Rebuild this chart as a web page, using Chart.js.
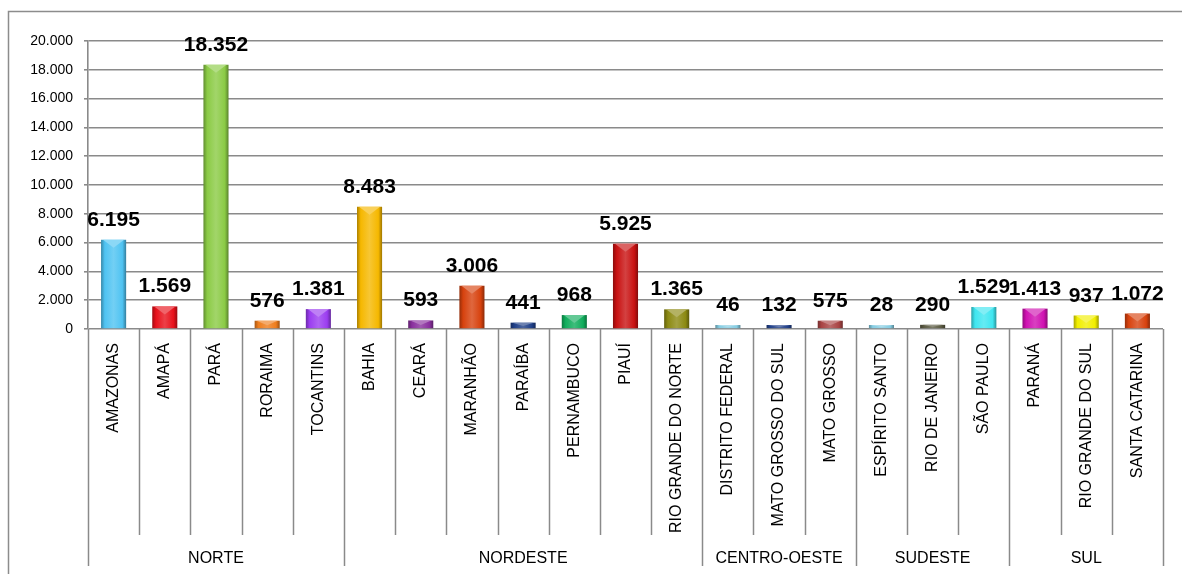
<!DOCTYPE html>
<html lang="pt">
<head>
  <meta charset="UTF-8">
  <title>Estados por região</title>
  <script src="https://cdn.jsdelivr.net/npm/chart.js"></script>
  <style>
    * { box-sizing: border-box; }
    body { margin: 0; background: #fff; }
    canvas { display: block; }
  </style>
</head>
<body>
  <canvas id="chart" width="1182" height="574"></canvas>
  <script>
    // data
    const states = ['AMAZONAS','AMAPÁ','PARÁ','RORAIMA','TOCANTINS',
      'BAHIA','CEARÁ','MARANHÃO','PARAÍBA','PERNAMBUCO','PIAUÍ','RIO GRANDE DO NORTE',
      'DISTRITO FEDERAL','MATO GROSSO DO SUL','MATO GROSSO',
      'ESPÍRITO SANTO','RIO DE JANEIRO','SÃO PAULO',
      'PARANÁ','RIO GRANDE DO SUL','SANTA CATARINA'];
    const values = [6195,1569,18352,576,1381, 8483,593,3006,441,968,5925,1365, 46,132,575, 28,290,1529, 1413,937,1072];
    const regions = ['NORTE','NORDESTE','CENTRO-OESTE','SUDESTE','SUL'];
    const regionSizes = [5,7,3,3,3];
    const barColors = ['#4fc3f2','#e8111b','#8bcb45','#ef7d1c','#9b3df0',
      '#f6b800','#8a2f9e','#d7420e','#1f3f88','#10ad5c','#c91212','#8c8a12',
      '#86cde3','#22418a','#a94444',
      '#86cde3','#5b5a42','#3fe6f0',
      '#d011b2','#f2ef00','#d8420e'];
    const yTicks = { min: 0, max: 20000, step: 2000 };

    const fmt = v => String(v).replace(/\B(?=(\d{3})+(?!\d))/g, '.');
    const FONT = '"Liberation Sans", Arial, sans-serif';
    const GRID = '#8a8a8a';

    function shade(hex, f) {
      const n = parseInt(hex.slice(1), 16);
      let r = n >> 16, g = (n >> 8) & 255, b = n & 255;
      if (f < 0) { r *= 1 + f; g *= 1 + f; b *= 1 + f; }
      else { r += (255 - r) * f; g += (255 - g) * f; b += (255 - b) * f; }
      return `rgb(${r|0},${g|0},${b|0})`;
    }

    function barFill(c) {
      const base = barColors[c.dataIndex];
      const xs = c.chart.scales.x;
      if (!xs || !xs.width) return base;
      const cx = xs.getPixelForValue(c.dataIndex);
      const half = xs.width / states.length * 0.245;
      const g = c.chart.ctx.createLinearGradient(cx - half, 0, cx + half, 0);
      g.addColorStop(0, shade(base, -0.3));
      g.addColorStop(0.15, base);
      g.addColorStop(0.5, shade(base, 0.2));
      g.addColorStop(0.85, base);
      g.addColorStop(1, shade(base, -0.35));
      return g;
    }

    const decor = {
      id: 'decor',
      beforeDraw(chart) {
        const c = chart.ctx;
        c.save(); c.strokeStyle = '#8c8c8c'; c.lineWidth = 1.5;
        c.strokeRect(8.5, 11.5, 1400, 800);
        c.restore();
      },
      afterDatasetsDraw(chart) {
        const c = chart.ctx, meta = chart.getDatasetMeta(0);
        c.save();
        meta.data.forEach((el, i) => {
          const h = el.base - el.y, w = el.width;
          // lighter bevel cap on top
          c.fillStyle = shade(barColors[i], 0.35);
          c.beginPath();
          c.moveTo(el.x - w / 2 + 2, el.y);
          c.lineTo(el.x + w / 2 - 2, el.y);
          c.lineTo(el.x, el.y + Math.min(8, h * 0.6));
          c.closePath(); c.fill();
          // value label
          c.fillStyle = '#000';
          c.font = 'bold 21px ' + FONT;
          c.textAlign = 'center'; c.textBaseline = 'alphabetic';
          c.fillText(fmt(values[i]), el.x, el.y - 14);
        });
        c.restore();
      },
      afterDraw(chart) {
        const c = chart.ctx, xs = chart.scales.x, a = chart.chartArea;
        const step = (xs.right - xs.left) / states.length;
        const groupEdges = [0];
        regionSizes.forEach(n => groupEdges.push(groupEdges[groupEdges.length - 1] + n));
        c.save();
        c.strokeStyle = GRID; c.lineWidth = 1.5;
        for (let i = 0; i <= states.length; i++) {
          const x = Math.round(xs.left + i * step) + 0.5;
          const end = groupEdges.includes(i) ? a.bottom + 237 : a.bottom + 206;
          c.beginPath(); c.moveTo(x, a.bottom); c.lineTo(x, end); c.stroke();
        }
        c.fillStyle = '#000';
        c.font = '16px ' + FONT;
        c.textAlign = 'center'; c.textBaseline = 'middle';
        regions.forEach((r, k) => {
          const mid = xs.left + (groupEdges[k] + groupEdges[k + 1]) / 2 * step;
          c.fillText(r, mid, a.bottom + 230);
        });
        c.restore();
      }
    };

    new Chart(document.getElementById('chart'), {
      type: 'bar',
      data: {
        labels: states,
        datasets: [{
          data: values,
          backgroundColor: barFill,
          borderWidth: 0,
          categoryPercentage: 0.5,
          barPercentage: 0.98,
          minBarLength: 4
        }]
      },
      options: {
        responsive: false,
        animation: false,
        events: [],
        layout: { padding: { left: 0, top: 41, right: 19, bottom: 0 } },
        plugins: { legend: { display: false }, tooltip: { enabled: false } },
        scales: {
          x: {
            grid: { display: false, drawTicks: false },
            border: { display: false },
            ticks: {
              autoSkip: false, maxRotation: 90, minRotation: 90, padding: 14,
              color: '#000', font: { family: FONT, size: 16 }
            },
            afterFit: s => { s.height = 245; }
          },
          y: {
            min: yTicks.min, max: yTicks.max,
            grid: { color: GRID, lineWidth: 1.6, tickLength: 4 },
            border: { color: GRID, width: 1.6 },
            ticks: {
              stepSize: yTicks.step, padding: 11, color: '#000',
              font: { family: FONT, size: 14 },
              callback: v => fmt(v)
            },
            afterFit: s => { s.width = 88; }
          }
        }
      },
      plugins: [decor]
    });
  </script>
</body>
</html>
